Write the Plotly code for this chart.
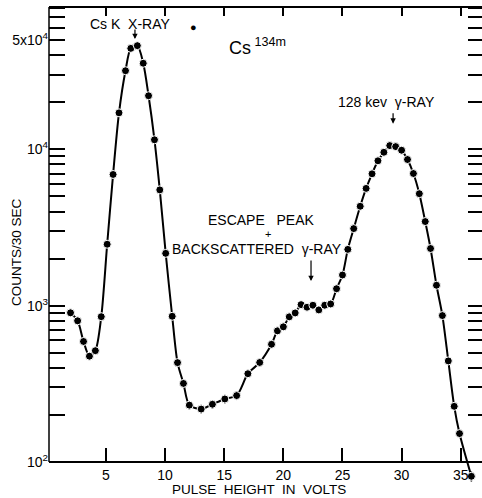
import plotly.graph_objects as go

# pulse height (volts) and counts per 30 sec
volts = [2.0, 2.6, 3.1, 3.6, 4.1, 4.6, 5.1, 5.6, 6.1, 6.65, 7.1, 7.65, 8.15, 8.6, 9.1, 9.55,
         10.05, 10.6, 11.05, 11.55, 12.05, 13.05, 14.0, 15.05, 16.05, 17.0, 18.0, 19.0,
         19.5, 20.0, 20.5, 21.0, 21.5, 22.0, 22.5, 23.0, 23.5, 24.0, 24.5, 25.0,
         25.45, 25.95, 26.5, 27.0, 27.5, 28.0, 28.5, 29.0, 29.5, 30.0,
         30.5, 31.0, 31.5, 32.0, 32.45, 32.95, 33.45, 33.95, 34.45, 34.9, 35.9]
counts = [900, 800, 590, 475, 515, 850, 2470, 6900, 17100, 31800, 44200, 46000, 35500, 22000, 11500, 5500,
          2160, 855, 432, 318, 231, 218, 234, 253, 266, 367, 433, 566,
          690, 732, 848, 898, 1015, 977, 1006, 939, 1006, 1025, 1283, 1570,
          2290, 3110, 4320, 5620, 6970, 8440, 9570, 10560, 10400, 9860,
          8600, 7000, 5200, 3450, 2320, 1350, 864, 443, 227, 152, 81]
count_err = [0, 0, 0, 0, 0, 0, 0, 0, 0, 0, 0, 0, 0, 0, 0, 0,
             0, 0, 0, 0, 14, 14, 15, 16, 17, 22, 26, 0,
             0, 0, 0, 0, 0, 0, 0, 0, 0, 0, 0, 0,
             0, 0, 0, 0, 0, 0, 0, 0, 0, 0,
             0, 0, 0, 0, 0, 0, 0, 0, 0, 0, 6]

x_ticks = [5, 10, 15, 20, 25, 30, 35]
y_major = [100, 1000, 10000, 50000]
y_major_text = ['10<sup>2</sup>', '10<sup>3</sup>', '10<sup>4</sup>', '5x10<sup>4</sup>']
y_ticks = [m * 10 ** e for e in (2, 3, 4) for m in range(1, 10) if m * 10 ** e < 82000]
y_ticktext = [y_major_text[y_major.index(v)] if v in y_major else '' for v in y_ticks]

W, H = 482, 498
ML, MR, MT, MB = 49, 0, 7, 16
AXIS_BOTTOM_PX = 462
Y_AXIS_LO, Y_HI = 2.0, 4.91
X_RANGE = [0.18, 36.8]

plot_h = H - MT - MB
dom_lo = (H - MB - AXIS_BOTTOM_PX) / plot_h
px_per_dec = (AXIS_BOTTOM_PX - MT) / (Y_HI - Y_AXIS_LO)
y_lo = Y_AXIS_LO - (H - MB - AXIS_BOTTOM_PX) / px_per_dec
Y_RANGE = [y_lo, Y_HI]

FONT = 'Liberation Sans'

trace = go.Scatter(
    x=volts, y=counts,
    mode='lines+markers',
    line=dict(color='black', width=2, shape='spline', smoothing=0.8),
    marker=dict(color='black', size=8, line=dict(color='white', width=1)),
    error_y=dict(type='data', array=count_err, visible=True, color='black', thickness=1.5, width=0),
    showlegend=False, hoverinfo='x+y',
)
# invisible copies so that the top and right tick axes get drawn
ghost_top = go.Scatter(x=volts[:1], y=counts[:1], xaxis='x2', yaxis='y', mode='markers',
                       marker=dict(opacity=0), showlegend=False, hoverinfo='skip')
ghost_right = go.Scatter(x=volts[:1], y=counts[:1], xaxis='x', yaxis='y3', mode='markers',
                         marker=dict(opacity=0), showlegend=False, hoverinfo='skip')

fig = go.Figure(data=[ghost_top, ghost_right, trace])

arrow = dict(text='', showarrow=True, arrowhead=2, arrowsize=0.9, arrowwidth=1.2,
             arrowcolor='black', ax=0, xref='x', yref='y')
txt = dict(showarrow=False, xref='x', yref='y', font=dict(family=FONT, size=14, color='black'))

annotations = [
    dict(txt, x=7.11, y=4.80, text='Cs K  X-RAY'),
    dict(arrow, x=7.45, y=4.705, ay=-11),
    dict(txt, x=12.44, y=4.78, text='\u25cf', font=dict(family=FONT, size=11, color='black')),
    dict(txt, x=17.8, y=4.66, text='Cs<sup> 134m</sup>', font=dict(family=FONT, size=18, color='black')),
    dict(txt, x=28.73, y=4.304, text='128 kev  \u03b3-RAY'),
    dict(arrow, x=29.28, y=4.164, ay=-12),
    dict(txt, x=18.1, y=3.545, text='ESCAPE   PEAK'),
    dict(txt, x=18.7, y=3.456, text='+', font=dict(family=FONT, size=11, color='black')),
    dict(txt, x=17.77, y=3.362, text='BACKSCATTERED  \u03b3-RAY'),
    dict(arrow, x=22.34, y=3.157, ay=-22),
    dict(text='COUNTS/30 SEC', showarrow=False, xref='paper', yref='paper', xanchor='center',
         x=(16 - ML) / (W - ML - MR), y=(H - MB - 252) / plot_h, textangle=-90,
         font=dict(family=FONT, size=13.5, color='black')),
    dict(text='PULSE  HEIGHT  IN  VOLTS', showarrow=False, xref='paper', yref='paper',
         x=(259 - ML) / (W - ML - MR), y=(H - MB - 489) / plot_h, yanchor='middle',
         xanchor='center', font=dict(family=FONT, size=13.5, color='black')),
]

# left frame line stops at the 10^2 axis, the curve runs on below it
shapes = [dict(type='line', xref='paper', yref='paper', x0=0, x1=0, y0=dom_lo, y1=1,
               line=dict(color='black', width=1.5))]

fig.update_layout(
    width=W, height=H,
    margin=dict(l=ML, r=MR, t=MT, b=MB),
    paper_bgcolor='white', plot_bgcolor='white',
    font=dict(family=FONT, size=14, color='black'),
    annotations=annotations,
    shapes=shapes,
    xaxis=dict(range=X_RANGE, anchor='free', position=dom_lo, tickvals=x_ticks,
               ticks='inside', ticklen=13, tickwidth=1.5, tickcolor='black',
               showline=True, linewidth=1.5, linecolor='black',
               showgrid=False, zeroline=False, tickfont=dict(size=14)),
    xaxis2=dict(range=X_RANGE, overlaying='x', side='top', anchor='free', position=1,
                tickvals=x_ticks, ticks='inside', ticklen=8, tickwidth=1.5, tickcolor='black',
                showline=True, linewidth=1.5, linecolor='black', showticklabels=False,
                showgrid=False, zeroline=False),
    yaxis=dict(type='log', range=Y_RANGE, domain=[0, 1], anchor='x',
               tickvals=y_ticks, ticktext=y_ticktext, ticks='inside', ticklen=16, tickwidth=1.5,
               tickcolor='black', showline=False, showgrid=False, zeroline=False,
               tickfont=dict(size=14)),
    yaxis3=dict(type='log', range=Y_RANGE, overlaying='y', side='right', anchor='x',
                tickvals=y_ticks, ticks='inside', ticklen=14, tickwidth=1.5, tickcolor='black',
                showline=False, showticklabels=False, showgrid=False, zeroline=False),
)

fig.write_html("out.html", config={'displayModeBar': False},
               post_script="document.body.style.margin='0';")
